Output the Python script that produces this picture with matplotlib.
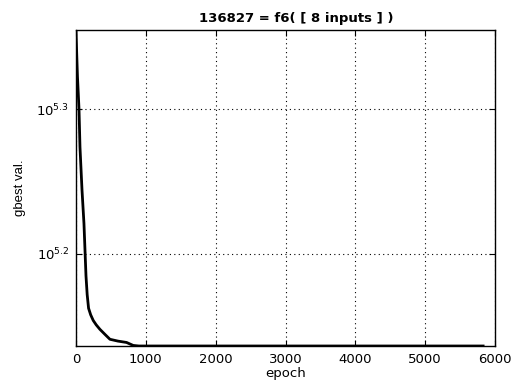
import matplotlib
matplotlib.use("Agg")
import matplotlib.pyplot as plt
from matplotlib.ticker import FixedLocator

plt.rcParams['font.family'] = ['DejaVu Sans']
plt.rcParams['mathtext.fontset'] = 'dejavusans'

# gbest value per epoch
epochs = [0, 10, 21, 43, 57, 86, 114, 143, 160, 180, 210, 247, 290, 343, 420, 486, 600, 724, 819, 900, 5830]
gbest = [226300, 218000, 210100, 199500, 187800, 175400, 166300, 153000, 148500,
         145300, 143800, 142500, 141500, 140500, 139300, 138300, 137900, 137600,
         136950, 136827, 136827]

xticks = [0, 1000, 2000, 3000, 4000, 5000, 6000]
yticks = [10 ** 5.2, 10 ** 5.3]
yticklabels = ['$10^{5.2}$', '$10^{5.3}$']

fig = plt.figure(figsize=(5.12, 3.81), dpi=100)
ax = fig.add_axes([76 / 512, 1 - 346 / 381, 419 / 512, 316 / 381])

ax.plot(epochs, gbest, color='black', lw=2)

ax.set_yscale('log')
ax.set_xlim(0, 6000)
ax.set_ylim(136827, 10 ** 5.3547)

ax.set_xticks(xticks)
ax.set_xticklabels([str(t) for t in xticks])
ax.set_yticks(yticks)
ax.set_yticklabels(yticklabels)
ax.yaxis.set_minor_locator(FixedLocator([]))
ax.xaxis.set_minor_locator(FixedLocator([]))

ax.tick_params(which='major', direction='in', length=4, width=0.8,
               top=True, right=True, labelsize=9.5, pad=5, colors='black')

ax.grid(True, which='major', color='black', linestyle=(0, (1, 3)), lw=0.8)
for s in ax.spines.values():
    s.set_linewidth(1.0)

ax.set_title('136827 = f6( [ 8 inputs ] )', fontsize=9.5, fontweight='bold',
             pad=6, x=0.525)
ax.set_xlabel('epoch', fontsize=9.5, labelpad=1)
ax.set_ylabel('gbest val.', fontsize=9.5, labelpad=7,
              family=['Liberation Sans Narrow', 'Liberation Sans'])

plt.savefig('out.png', dpi=100)
